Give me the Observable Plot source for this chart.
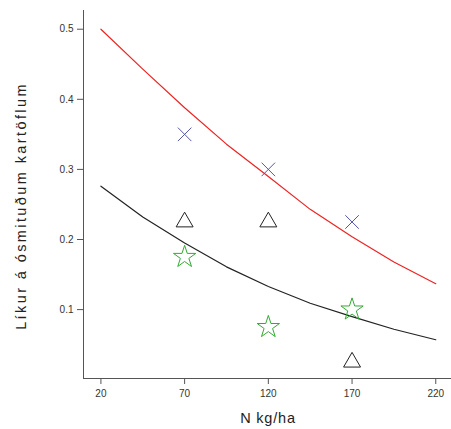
<!DOCTYPE html>
<html>
<head>
<meta charset="utf-8">
<script src="https://cdn.jsdelivr.net/npm/d3@7"></script>
<script src="https://cdn.jsdelivr.net/npm/@observablehq/plot@0.6"></script>
<style>
  html, body { margin: 0; padding: 0; background: #fff; }
  #chart svg { display: block; }
</style>
</head>
<body>
<div id="chart"></div>
<script>
// Data
const nLevels = [70, 120, 170];
const crossValues = [0.35, 0.30, 0.225];      // blue ×
const triangleValues = [0.225, 0.225, 0.025]; // black △
const starValues = [0.175, 0.075, 0.10];      // green ☆

const curveX = [20, 45, 70, 95, 120, 145, 170, 195, 220];
const redCurve = [0.500, 0.443, 0.388, 0.336, 0.290, 0.243, 0.204, 0.168, 0.137];
const blackCurve = [0.276, 0.232, 0.195, 0.161, 0.133, 0.109, 0.090, 0.072, 0.057];

const xTicks = [20, 70, 120, 170, 220];
const yTicks = [0.1, 0.2, 0.3, 0.4, 0.5];
const xLabel = "N kg/ha";
const yLabel = "Líkur á ósmituðum kartöflum";

const pts = (ys) => nLevels.map((x, i) => ({x, y: ys[i]}));
const curve = (ys) => curveX.map((x, i) => ({x, y: ys[i]}));

const xDomain = [9.6, 229.4];
const yDomain = [0.0017, 0.5267];
const axisColor = "#555";

const chart = Plot.plot({
  width: 451,
  height: 429,
  marginLeft: 83,
  marginRight: 0,
  marginTop: 10,
  marginBottom: 51,
  style: {fontFamily: "'Liberation Sans', Arial, sans-serif", fontSize: "10px", color: "#333", background: "#fff"},
  x: {domain: xDomain},
  y: {domain: yDomain},
  marks: [
    Plot.ruleX([xDomain[0]], {stroke: axisColor, strokeWidth: 1}),
    Plot.ruleY([yDomain[0]], {stroke: axisColor, strokeWidth: 1}),
    Plot.axisX(xTicks, {tickSize: 6, tickPadding: 5, stroke: axisColor, fill: "#333", fontSize: 10, label: null}),
    Plot.axisY(yTicks, {tickSize: 6, tickPadding: 4, stroke: axisColor, fill: "#333", fontSize: 10, label: null, tickFormat: d3.format(".1f")}),
    Plot.line(curve(redCurve), {x: "x", y: "y", stroke: "#ee2222", strokeWidth: 1.2}),
    Plot.line(curve(blackCurve), {x: "x", y: "y", stroke: "#222", strokeWidth: 1.2}),
    Plot.dot(pts(crossValues), {x: "x", y: "y", symbol: "times", r: 6.2, stroke: "#5555aa", strokeWidth: 1, fill: "none"}),
    Plot.dot(pts(triangleValues), {x: "x", y: "y", symbol: "triangle", r: 6.3, stroke: "#222", strokeWidth: 1, fill: "none"}),
    Plot.dot(pts(starValues), {x: "x", y: "y", symbol: "star", r: 7, stroke: "#33aa33", strokeWidth: 1, fill: "none"})
  ]
});

const svg = d3.select(chart);
svg.append("text")
  .attr("x", 268).attr("y", 423)
  .attr("text-anchor", "middle")
  .attr("font-size", 14.5)
  .attr("letter-spacing", "0.8px")
  .attr("fill", "#222")
  .text(xLabel);
svg.append("text")
  .attr("transform", "translate(26,206) rotate(-90)")
  .attr("text-anchor", "middle")
  .attr("font-size", 14.5)
  .attr("letter-spacing", "2.4px")
  .attr("fill", "#222")
  .text(yLabel);

document.getElementById("chart").appendChild(chart);
</script>
</body>
</html>
